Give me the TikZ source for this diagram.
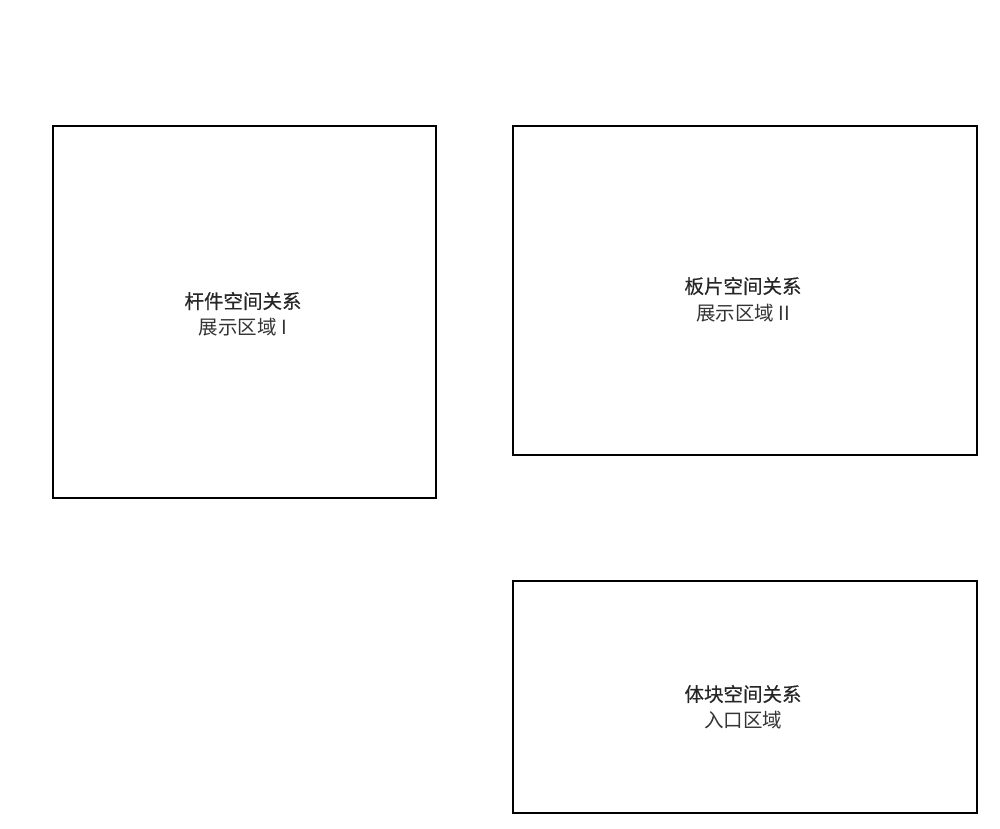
\documentclass[tikz,border=0pt]{standalone}
\usepackage{fontspec}
\newfontfamily\cjk{Noto Sans CJK SC}
\newfontfamily\cjkb[FakeBold=0.4]{Noto Sans CJK SC}
\begin{document}
\begin{tikzpicture}[x=1pt,y=-1pt,
  zone/.style={draw=black,line width=1.8pt,fill=none},
  ttl/.style={font=\cjkb\fontsize{19.5}{22}\selectfont,text=black!85,inner sep=0pt},
  sub/.style={font=\cjk\fontsize{19.5}{22}\selectfont,text=black!80,inner sep=0pt}]
\useasboundingbox (0,0) rectangle (1000,828);
\draw[zone] (53,126) rectangle (436,498);
\draw[zone] (513,126) rectangle (977,455);
\draw[zone] (513,581) rectangle (977,813);
\node[ttl] (t1) at (243,301) {杆件空间关系};
\node[sub] (s1) at (243,327) {展示区域 I};
\node[ttl] (t2) at (743,286) {板片空间关系};
\node[sub] (s2) at (743,313) {展示区域 II};
\node[ttl] (t3) at (743,694) {体块空间关系};
\node[sub] (s3) at (743,720) {入口区域};
\end{tikzpicture}
\end{document}
